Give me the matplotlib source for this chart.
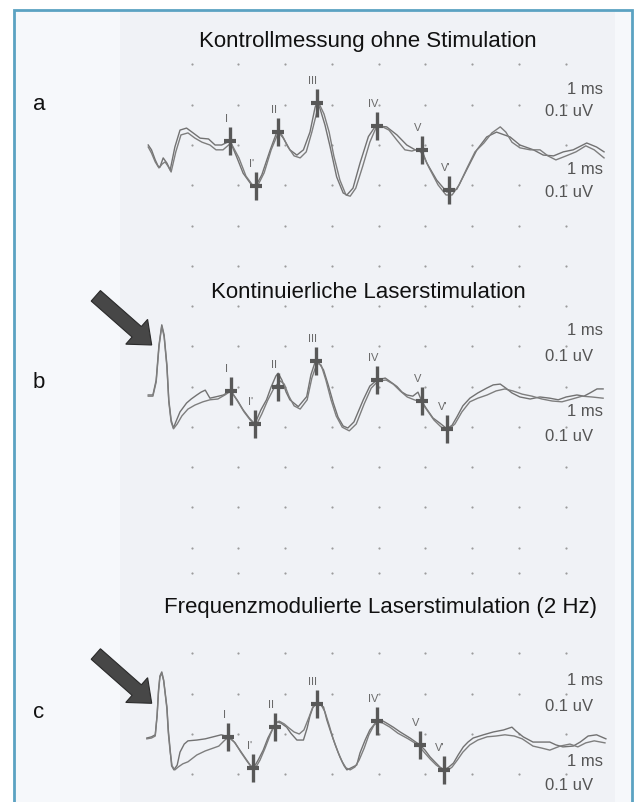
import numpy as np
import matplotlib.pyplot as plt
from matplotlib.patches import Rectangle, FancyArrow

plt.rcParams['font.family'] = ['Liberation Sans', 'DejaVu Sans']

# --- Daten: Zeit (ms), Amplitude (uV); je Panel zwei Messkurven ---
PANEL_LETTERS = ['a', 'b', 'c']
PANEL_TITLES = ['Kontrollmessung ohne Stimulation',
                'Kontinuierliche Laserstimulation',
                'Frequenzmodulierte Laserstimulation (2 Hz)']
PEAK_LABELS = ['I', "I'", 'II', 'III', 'IV', 'V', "V'"]

TRACE_A1 = [(0.07, 0.000), (0.14, -0.012), (0.22, -0.037), (0.28, -0.052), (0.32, -0.055),
            (0.39, -0.032), (0.47, -0.045), (0.54, -0.062), (0.64, -0.005), (0.75, 0.037),
            (0.89, 0.042), (1.03, 0.030), (1.18, 0.017), (1.36, 0.015), (1.50, 0.000),
            (1.64, 0.000), (1.82, 0.010), (1.96, -0.029), (2.10, -0.070), (2.28, -0.099),
            (2.37, -0.102), (2.50, -0.074), (2.68, -0.012), (2.82, 0.032), (2.85, 0.033),
            (2.96, 0.017), (3.10, -0.012), (3.25, -0.025), (3.39, -0.012), (3.53, 0.032),
            (3.64, 0.094), (3.68, 0.104), (3.74, 0.092), (3.85, 0.050), (3.96, -0.004),
            (4.10, -0.079), (4.24, -0.119), (4.32, -0.124), (4.45, -0.107), (4.60, -0.045),
            (4.78, 0.021), (4.92, 0.045), (4.99, 0.047), (5.17, 0.045), (5.39, 0.025),
            (5.60, 0.000), (5.78, -0.012), (5.92, -0.012), (6.03, -0.045), (6.24, -0.087),
            (6.46, -0.117), (6.51, -0.113), (6.67, -0.110), (6.88, -0.062), (7.10, -0.012),
            (7.31, 0.020), (7.52, 0.032), (7.81, 0.020), (8.02, 0.000), (8.31, -0.012),
            (8.52, -0.025), (8.74, -0.027), (8.95, -0.017), (9.16, -0.012), (9.45, 0.005),
            (9.66, -0.005), (9.82, -0.017)]
TRACE_A2 = [(0.07, -0.005), (0.14, -0.020), (0.22, -0.042), (0.30, -0.057), (0.37, -0.047),
            (0.43, -0.042), (0.49, -0.052), (0.56, -0.067), (0.66, -0.017), (0.77, 0.025),
            (0.92, 0.030), (1.07, 0.017), (1.22, 0.007), (1.39, 0.000), (1.52, -0.012),
            (1.67, -0.012), (1.84, 0.005), (2.01, -0.032), (2.16, -0.077), (2.33, -0.104),
            (2.42, -0.099), (2.55, -0.069), (2.70, -0.012), (2.85, 0.030), (2.93, 0.025),
            (3.06, -0.005), (3.19, -0.027), (3.32, -0.032), (3.45, -0.017), (3.57, 0.032),
            (3.70, 0.092), (3.74, 0.099), (3.83, 0.077), (3.94, 0.032), (4.04, -0.027),
            (4.17, -0.087), (4.30, -0.124), (4.39, -0.127), (4.51, -0.107), (4.66, -0.052),
            (4.81, 0.007), (4.94, 0.042), (5.05, 0.047), (5.22, 0.037), (5.39, 0.012),
            (5.56, -0.012), (5.71, -0.015), (5.84, -0.010), (5.95, -0.025), (6.08, -0.057),
            (6.27, -0.099), (6.44, -0.124), (6.57, -0.124), (6.72, -0.099), (6.89, -0.057),
            (7.06, -0.017), (7.25, 0.005), (7.42, 0.030), (7.60, 0.045), (7.72, 0.032),
            (7.85, 0.007), (8.02, -0.007), (8.24, -0.012), (8.45, -0.012), (8.62, -0.027),
            (8.79, -0.037), (9.01, -0.027), (9.22, -0.017), (9.43, -0.002), (9.61, -0.012),
            (9.82, -0.032)]

TRACE_B1 = [(0.07, -0.021), (0.17, -0.021), (0.24, 0.016), (0.30, 0.103), (0.36, 0.153),
            (0.41, 0.128), (0.47, 0.053), (0.51, -0.033), (0.56, -0.083), (0.61, -0.103),
            (0.66, -0.088), (0.75, -0.063), (0.89, -0.041), (0.99, -0.031), (1.11, -0.021),
            (1.20, -0.014), (1.29, -0.009), (1.39, -0.029), (1.54, -0.025), (1.68, -0.021),
            (1.83, -0.010), (1.97, -0.033), (2.10, -0.058), (2.23, -0.078), (2.35, -0.093),
            (2.48, -0.058), (2.60, -0.033), (2.70, -0.001), (2.80, 0.026), (2.85, 0.033),
            (2.93, 0.016), (3.02, -0.014), (3.10, -0.033), (3.28, -0.050), (3.46, -0.025),
            (3.55, 0.029), (3.64, 0.061), (3.68, 0.066), (3.82, 0.041), (3.92, 0.004),
            (4.03, -0.041), (4.13, -0.076), (4.24, -0.098), (4.34, -0.103), (4.47, -0.088),
            (4.67, -0.033), (4.81, 0.001), (4.96, 0.016), (5.14, 0.021), (5.26, 0.011),
            (5.39, 0.000), (5.50, -0.014), (5.60, -0.021), (5.73, -0.024), (5.84, -0.014),
            (5.92, -0.036), (6.01, -0.053), (6.16, -0.078), (6.31, -0.091), (6.46, -0.105),
            (6.57, -0.096), (6.67, -0.076), (6.80, -0.048), (6.95, -0.029), (7.12, -0.016),
            (7.31, -0.004), (7.45, 0.004), (7.60, 0.006), (7.72, -0.004), (7.85, -0.016),
            (8.02, -0.026), (8.24, -0.031), (8.45, -0.026), (8.66, -0.029), (8.84, -0.033),
            (9.01, -0.026), (9.24, -0.021), (9.39, -0.024), (9.52, -0.016), (9.67, -0.006),
            (9.80, -0.006)]
TRACE_B2 = [(0.07, -0.024), (0.17, -0.024), (0.24, 0.011), (0.30, 0.098), (0.36, 0.150),
            (0.41, 0.123), (0.47, 0.048), (0.51, -0.038), (0.56, -0.088), (0.61, -0.105),
            (0.69, -0.093), (0.79, -0.073), (0.92, -0.056), (1.07, -0.046), (1.24, -0.038),
            (1.39, -0.033), (1.56, -0.031), (1.71, -0.021), (1.84, -0.011), (1.99, -0.038),
            (2.12, -0.063), (2.25, -0.083), (2.38, -0.096), (2.50, -0.068), (2.63, -0.033),
            (2.76, -0.004), (2.89, 0.014), (2.98, 0.006), (3.08, -0.024), (3.19, -0.048),
            (3.32, -0.056), (3.47, -0.033), (3.57, 0.021), (3.68, 0.058), (3.77, 0.053),
            (3.87, 0.016), (3.98, -0.033), (4.09, -0.073), (4.22, -0.101), (4.37, -0.110),
            (4.52, -0.093), (4.69, -0.043), (4.84, -0.004), (4.99, 0.014), (5.16, 0.016),
            (5.31, 0.006), (5.46, -0.011), (5.61, -0.026), (5.76, -0.033), (5.91, -0.038),
            (6.03, -0.058), (6.18, -0.083), (6.33, -0.100), (6.48, -0.108), (6.63, -0.093),
            (6.78, -0.063), (6.95, -0.038), (7.12, -0.029), (7.32, -0.021), (7.51, -0.011),
            (7.70, -0.006), (7.87, -0.011), (8.07, -0.019), (8.28, -0.024), (8.49, -0.031),
            (8.71, -0.036), (8.92, -0.038), (9.14, -0.031), (9.35, -0.024), (9.56, -0.026),
            (9.80, -0.029)]

TRACE_C1 = [(0.04, -0.010), (0.14, -0.007), (0.22, -0.002), (0.26, 0.047), (0.29, 0.109),
            (0.32, 0.144), (0.36, 0.154), (0.40, 0.134), (0.47, 0.067), (0.50, 0.010),
            (0.54, -0.040), (0.57, -0.079), (0.62, -0.089), (0.69, -0.077), (0.75, -0.045),
            (0.84, -0.025), (0.92, -0.017), (1.11, -0.015), (1.29, -0.012), (1.46, -0.007),
            (1.63, -0.002), (1.78, -0.007), (1.91, -0.020), (2.03, -0.040), (2.16, -0.062),
            (2.25, -0.077), (2.32, -0.085), (2.42, -0.065), (2.53, -0.040), (2.63, -0.010),
            (2.75, 0.017), (2.82, 0.030), (2.91, 0.027), (3.03, 0.017), (3.12, 0.002),
            (3.25, -0.015), (3.39, -0.015), (3.47, 0.015), (3.53, 0.045), (3.59, 0.065),
            (3.67, 0.077), (3.74, 0.074), (3.82, 0.067), (3.89, 0.035), (3.96, 0.010),
            (4.07, -0.027), (4.17, -0.057), (4.26, -0.079), (4.32, -0.089), (4.41, -0.084),
            (4.53, -0.077), (4.60, -0.047), (4.71, -0.015), (4.81, 0.010), (4.96, 0.032),
            (5.05, 0.035), (5.17, 0.027), (5.31, 0.017), (5.46, 0.005), (5.67, -0.010),
            (5.88, -0.027), (5.99, -0.040), (6.10, -0.057), (6.20, -0.069), (6.31, -0.082),
            (6.40, -0.089), (6.50, -0.082), (6.60, -0.072), (6.70, -0.052), (6.81, -0.032),
            (6.91, -0.020), (7.02, -0.010), (7.24, -0.002), (7.45, 0.005), (7.67, 0.010),
            (7.85, 0.017), (7.94, 0.007), (8.09, -0.007), (8.30, -0.020), (8.45, -0.020),
            (8.66, -0.020), (8.79, -0.027), (8.94, -0.032), (9.16, -0.030), (9.31, -0.020),
            (9.48, -0.005), (9.66, -0.002), (9.86, -0.012)]
TRACE_C2 = [(0.04, -0.012), (0.14, -0.010), (0.22, -0.005), (0.26, 0.045), (0.29, 0.104),
            (0.32, 0.141), (0.36, 0.151), (0.40, 0.132), (0.47, 0.062), (0.50, 0.002),
            (0.54, -0.045), (0.58, -0.079), (0.64, -0.089), (0.71, -0.082), (0.81, -0.074),
            (0.92, -0.069), (1.11, -0.052), (1.29, -0.042), (1.46, -0.035), (1.58, -0.030),
            (1.71, -0.015), (1.80, -0.007), (1.93, -0.022), (2.05, -0.045), (2.18, -0.067),
            (2.29, -0.084), (2.35, -0.087), (2.46, -0.065), (2.57, -0.035), (2.68, -0.002),
            (2.78, 0.025), (2.87, 0.032), (2.98, 0.025), (3.08, 0.015), (3.19, 0.005),
            (3.30, 0.000), (3.40, 0.010), (3.51, 0.042), (3.59, 0.067), (3.68, 0.077),
            (3.77, 0.072), (3.85, 0.055), (3.94, 0.022), (4.02, -0.010), (4.13, -0.045),
            (4.22, -0.069), (4.30, -0.084), (4.39, -0.089), (4.49, -0.082), (4.58, -0.065),
            (4.69, -0.035), (4.79, -0.002), (4.90, 0.022), (4.99, 0.030), (5.09, 0.027),
            (5.24, 0.017), (5.41, 0.002), (5.63, -0.012), (5.84, -0.027), (5.97, -0.045),
            (6.10, -0.062), (6.23, -0.077), (6.35, -0.087), (6.46, -0.092), (6.57, -0.082),
            (6.68, -0.065), (6.80, -0.045), (6.95, -0.027), (7.12, -0.015), (7.32, -0.007),
            (7.51, -0.005), (7.70, -0.002), (7.90, -0.005), (8.07, -0.012), (8.30, -0.030),
            (8.49, -0.035), (8.66, -0.040), (8.88, -0.030), (9.09, -0.025), (9.26, -0.032),
            (9.43, -0.022), (9.61, -0.017), (9.84, -0.022)]

# Wellen I, I', II, III, IV, V, V' (ms, uV)
PEAKS_A = [(1.82, 0.010), (2.37, -0.101), (2.85, 0.033), (3.67, 0.105),
           (4.97, 0.047), (5.92, -0.012), (6.51, -0.112)]
PEAKS_B = [(1.83, -0.010), (2.35, -0.093), (2.84, 0.000), (3.66, 0.064),
           (4.96, 0.016), (5.92, -0.036), (6.46, -0.106)]
PEAKS_C = [(1.78, -0.007), (2.32, -0.085), (2.78, 0.017), (3.67, 0.074),
           (4.96, 0.032), (5.88, -0.027), (6.40, -0.089)]

GRID_MS = [1, 2, 3, 4, 5, 6, 7, 8, 9]
GRID_UV_A = [0.2, 0.1, 0.0, -0.1, -0.2, -0.3]
GRID_UV_B = [0.2, 0.1, 0.0, -0.1, -0.2, -0.3, -0.4]
GRID_UV_C = [0.4, 0.2, 0.1, 0.0, -0.1]

# Skalenbeschriftung: (uV-Position, Text)
SCALE_A = [(0.138, '1 ms'), (0.082, '0.1 uV'), (-0.062, '1 ms'), (-0.119, '0.1 uV')]
SCALE_B = [(0.138, '1 ms'), (0.074, '0.1 uV'), (-0.061, '1 ms'), (-0.124, '0.1 uV')]
SCALE_C = [(0.132, '1 ms'), (0.069, '0.1 uV'), (-0.067, '1 ms'), (-0.127, '0.1 uV')]

# --- Layout (Pixel) ---
W, H = 644, 802
X0, PX_MS, PX_UV = 144.95, 46.75, 403.0   # t=0 bei x=X0
AX_L, AX_R = 120, 615

panels = [
    dict(top=15, bottom=275, base=145, traces=(TRACE_A1, TRACE_A2), peaks=PEAKS_A,
         grid=GRID_UV_A, scale=SCALE_A, title_xy=(368, 41), letter_y=104, arrow=None),
    dict(top=275, bottom=556, base=386.5, traces=(TRACE_B1, TRACE_B2), peaks=PEAKS_B,
         grid=GRID_UV_B, scale=SCALE_B, title_xy=(368, 292), letter_y=383,
         arrow=((95.8, 295.8), (151.7, 345.0))),
    dict(top=556, bottom=802, base=734, traces=(TRACE_C1, TRACE_C2), peaks=PEAKS_C,
         grid=GRID_UV_C, scale=SCALE_C, title_xy=(381, 607), letter_y=712,
         arrow=((95.8, 654.0), (151.7, 703.3))),
]

fig = plt.figure(figsize=(W / 100, H / 100), dpi=100)
fig.patch.set_facecolor('white')

# Hintergrund, Rahmen, Pfeile, Beschriftung in Pixelkoordinaten
bg = fig.add_axes([0, 0, 1, 1])
bg.set_xlim(0, W)
bg.set_ylim(H, 0)
bg.axis('off')
bg.add_patch(Rectangle((14, 10), 618, 830, fc='#f6f8fb', ec='#5ba2c2', lw=2.0))
bg.add_patch(Rectangle((120, 12), 495, 830, fc='#f0f2f6', ec='none'))

for i, p in enumerate(panels):
    bg.text(p['title_xy'][0], p['title_xy'][1], PANEL_TITLES[i], ha='center', va='center',
            fontsize=16, color='#111111')
    bg.text(39, p['letter_y'], PANEL_LETTERS[i], ha='center', va='center',
            fontsize=16, color='#111111')
    if p['arrow'] is not None:
        (x0, y0), (x1, y1) = p['arrow']
        bg.add_patch(FancyArrow(x0, y0, x1 - x0, y1 - y0, width=14, head_width=33,
                                head_length=20, length_includes_head=True,
                                fc='#474747', ec='#2a2a2a', lw=0.8))

    ax = fig.add_axes([AX_L / W, 1 - p['bottom'] / H, (AX_R - AX_L) / W,
                       (p['bottom'] - p['top']) / H])
    ax.set_xlim((AX_L - X0) / PX_MS, (AX_R - X0) / PX_MS)
    ax.set_ylim((p['base'] - p['bottom']) / PX_UV, (p['base'] - p['top']) / PX_UV)
    ax.axis('off')
    ax.patch.set_alpha(0)

    # Punktraster (1 ms x 0.1 uV)
    gx, gy = np.meshgrid(GRID_MS, p['grid'])
    ax.scatter(gx.ravel(), gy.ravel(), s=2.5, color='#9c9c9c', linewidths=0)

    for tr, col in zip(p['traces'], ['#727272', '#7e7e7e']):
        arr = np.array(tr)
        ax.plot(arr[:, 0], arr[:, 1], color=col, lw=1.0)

    pk = np.array(p['peaks'])
    ax.plot(pk[:, 0], pk[:, 1], ls='none', marker='|', ms=20, mew=2.4, color='#585858')
    ax.plot(pk[:, 0], pk[:, 1], ls='none', marker='_', ms=8, mew=3.0, color='#585858')
    for lbl, (t, v) in zip(PEAK_LABELS, p['peaks']):
        ax.annotate(lbl, (t, v), xytext=(-2.9, 15.8), textcoords='offset points',
                    ha='center', va='center', fontsize=8, color='#6a6a6a')

    for v, txt in p['scale']:
        xr = 9.80 if txt == '1 ms' else 9.585
        ax.text(xr, v, txt, ha='right', va='center', fontsize=12, color='#555555')

fig.savefig('out.png', dpi=100)
